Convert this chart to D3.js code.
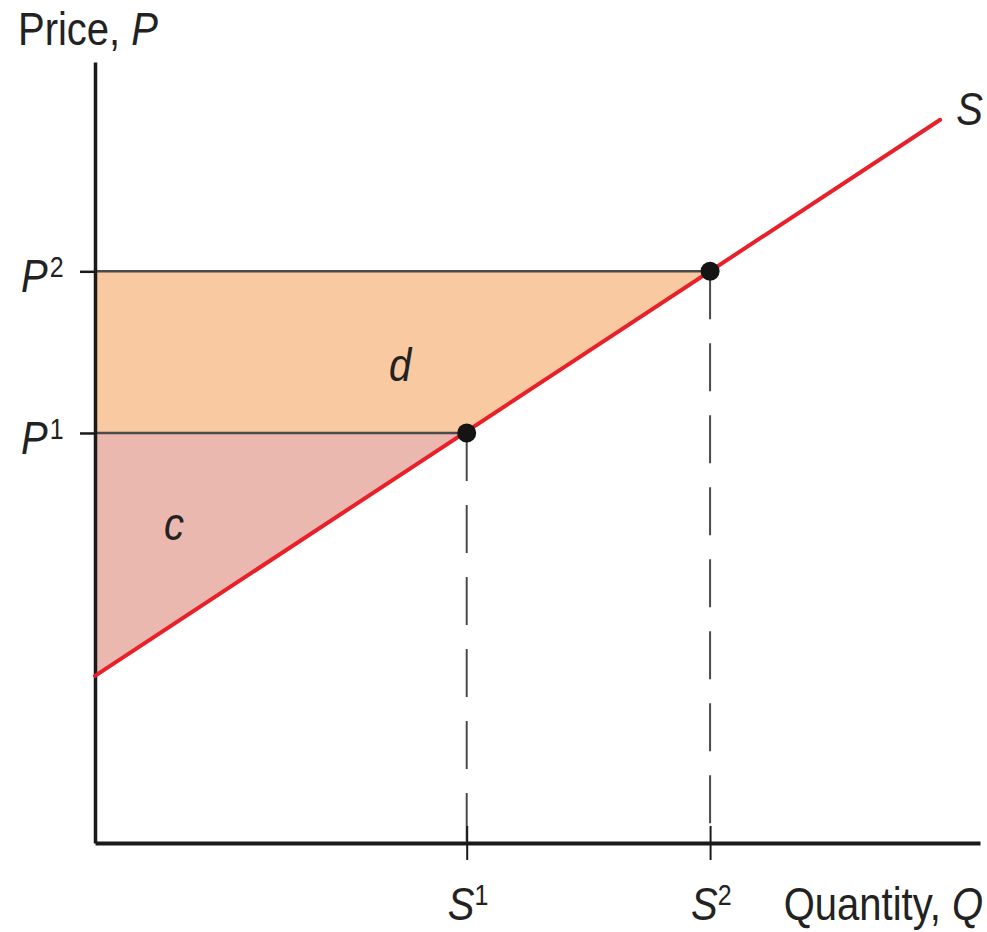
<!DOCTYPE html>
<html lang="en">
<head>
	<meta charset="utf-8">
	<title>Supply: producer surplus c and d</title>
	<script src="https://cdn.jsdelivr.net/npm/d3@7"></script>
	<style>
		body { margin: 0; background: #fff; }
		text { font-family: "Liberation Sans", Arial, Helvetica, sans-serif; fill: #222; }
		.axis path, .axis line { stroke: #1a1a1a; }
	</style>
</head>
<body>
	<script>
		// chart values (quantity and price units on 0..100 axes)
		var quantities = [42, 69.5];          // S1, S2
		var prices = [52.5, 73.2];            // P1, P2
		var supply = [[0, 21.4], [95.5, 92.6]];
		var priceLabels = ["1", "2"];
		var qtyLabels = ["1", "2"];

		var w = 987, h = 932;
		var fs = 40, stretch = 1.17;  // text in the original is a bit tall

		var x = d3.scaleLinear().domain([0, 100]).range([95, 980]);
		var y = d3.scaleLinear().domain([0, 100]).range([843, 62]);

		var svg = d3.select("body").append("svg")
			.attr("width", w)
			.attr("height", h);

		// text helper, stretched vertically around its baseline
		function label(px, py) {
			return svg.append("text")
				.attr("transform", "translate(" + px + "," + py + ") scale(1," + stretch + ")")
				.attr("font-size", fs);
		}

		// shaded areas
		var area = d3.line().x(function (d) { return x(d[0]); }).y(function (d) { return y(d[1]); });

		svg.append("path")
			.attr("d", area([[0, prices[1]], [quantities[1], prices[1]], [quantities[0], prices[0]], [0, prices[0]]]) + "Z")
			.attr("fill", "#f9c9a1");

		svg.append("path")
			.attr("d", area([[0, prices[0]], [quantities[0], prices[0]], supply[0]]) + "Z")
			.attr("fill", "#ebb8af");

		// price lines
		svg.selectAll(".pline")
			.data(prices)
			.enter()
			.append("line")
			.attr("x1", x(0))
			.attr("x2", function (d, i) { return x(quantities[i]); })
			.attr("y1", function (d) { return y(d); })
			.attr("y2", function (d) { return y(d); })
			.attr("stroke", "#4a4a4a")
			.attr("stroke-width", 2.5);

		// dashed quantity lines
		svg.selectAll(".qline")
			.data(quantities)
			.enter()
			.append("line")
			.attr("x1", function (d) { return x(d); })
			.attr("x2", function (d) { return x(d); })
			.attr("y1", function (d, i) { return y(prices[i]); })
			.attr("y2", y(0))
			.attr("stroke", "#4a4a4a")
			.attr("stroke-width", 2)
			.attr("stroke-dasharray", "48,24");

		// y axis
		var yAxis = d3.axisLeft(y)
			.tickValues(prices)
			.tickFormat("")
			.tickSize(15)
			.tickSizeOuter(0);

		var gy = svg.append("g")
			.attr("class", "axis")
			.attr("transform", "translate(" + x(0) + ",0)")
			.call(yAxis);
		gy.select(".domain").attr("stroke-width", 3.5);
		gy.selectAll(".tick line").attr("stroke", "#4a4a4a").attr("stroke-width", 2.5);

		// x axis
		var xAxis = d3.axisBottom(x)
			.tickValues(quantities)
			.tickFormat("")
			.tickSize(17)
			.tickSizeOuter(0);

		var gx = svg.append("g")
			.attr("class", "axis")
			.attr("transform", "translate(0," + y(0) + ")")
			.call(xAxis);
		gx.select(".domain").attr("stroke-width", 4);
		gx.selectAll(".tick line").attr("y1", -17).attr("stroke", "#3a3a3a").attr("stroke-width", 2);

		// supply curve
		svg.append("path")
			.attr("d", area(supply))
			.attr("fill", "none")
			.attr("stroke", "#e8202a")
			.attr("stroke-width", 4)
			.attr("stroke-linecap", "round");

		// equilibrium points
		svg.selectAll(".pt")
			.data(quantities)
			.enter()
			.append("circle")
			.attr("cx", function (d) { return x(d); })
			.attr("cy", function (d, i) { return y(prices[i]); })
			.attr("r", 9.5)
			.attr("fill", "#141414");

		// axis titles
		var t1 = label(18, 45);
		t1.append("tspan").text("Price, ");
		t1.append("tspan").attr("font-style", "italic").text("P");

		var t2 = label(983, 920).attr("text-anchor", "end");
		t2.append("tspan").text("Quantity, ");
		t2.append("tspan").attr("font-style", "italic").text("Q");

		// price tick labels
		prices.forEach(function (p, i) {
			var t = label(21, y(p) + 21);
			t.append("tspan").attr("font-style", "italic").text("P");
			t.append("tspan").attr("font-size", 25).attr("dy", -13).attr("dx", 2).text(priceLabels[i]);
		});

		// quantity tick labels
		quantities.forEach(function (q, i) {
			var t = label(x(q) - 19, 920);
			t.append("tspan").attr("font-style", "italic").text("S");
			t.append("tspan").attr("font-size", 25).attr("dy", -13).attr("dx", 0).text(qtyLabels[i]);
		});

		// curve and area labels
		label(x(supply[1][0]) + 16, y(supply[1][1]) + 5)
			.attr("font-style", "italic")
			.text("S");

		label(389, 381).attr("font-style", "italic").text("d");
		label(164, 540).attr("font-style", "italic").text("c");
	</script>
</body>
</html>
